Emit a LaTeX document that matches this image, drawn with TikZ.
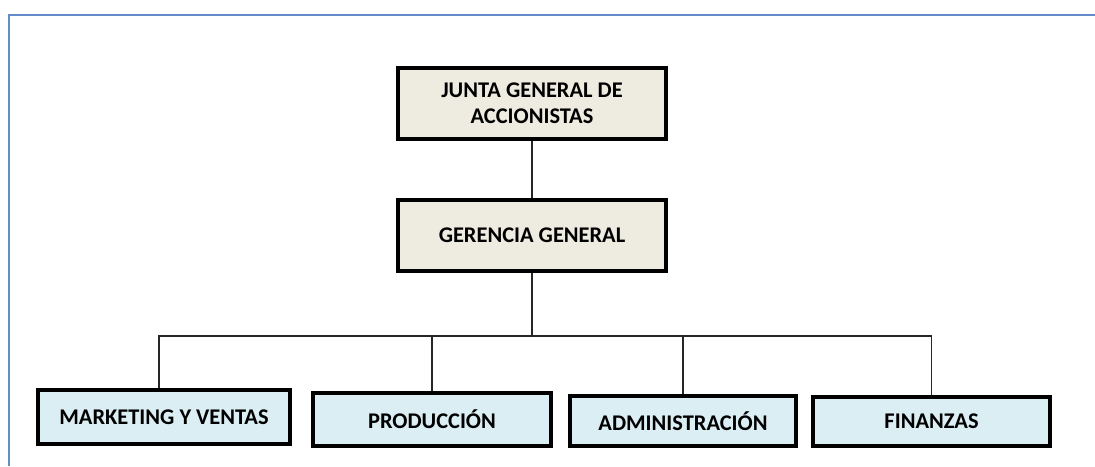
\documentclass[tikz,border=0pt]{standalone}
\usepackage{fontspec}
\setmainfont{Carlito}
\usetikzlibrary{calc}
\definecolor{beige}{RGB}{238,236,225}
\definecolor{paleblue}{RGB}{218,238,243}
\definecolor{frameblue}{RGB}{100,140,200}

\begin{document}
\begin{tikzpicture}[x=0.5pt,y=-0.5pt,
  topbox/.style={draw=black,line width=1.9pt,fill=beige,inner sep=0pt,
    minimum width=134.2pt,minimum height=35.7pt,align=center,
    font=\fontsize{11.2}{13}\selectfont\bfseries},
  deptbox/.style={draw=black,line width=1.9pt,fill=paleblue,inner sep=0pt,
    font=\fontsize{11.2}{13}\selectfont\bfseries},
  link/.style={draw=black!85,line width=0.7pt}]

\useasboundingbox (0,0) rectangle (1095,466);

%frame
\draw[frameblue,line width=1.1pt] (1095,15) -- (9,15) -- (9,466);

%top
\node[topbox] (junta) at (532,103.5) {JUNTA GENERAL DE\\ACCIONISTAS};
\node[topbox] (gerencia) at (532,235.5) {GERENCIA GENERAL};

%departments
\node[deptbox,minimum width=126.2pt,minimum height=27.2pt] (mkt) at (164,417) {MARKETING Y VENTAS};
\node[deptbox,minimum width=119.2pt,minimum height=26.7pt] (prod) at (432,419.5) {PRODUCCIÓN};
\node[deptbox,minimum width=113.2pt,minimum height=25.2pt] (adm) at (683,421) {ADMINISTRACIÓN};
\node[deptbox,minimum width=118.7pt,minimum height=24.7pt] (fin) at (931.5,421.5) {FINANZAS};

%lines
\coordinate (bus) at (532,336);
\draw[link] (junta) -- (gerencia);
\draw[link] (gerencia) -- (bus);
\draw[link] (bus) -| ([xshift=-2.5pt]mkt.north);
\draw[link] (bus) -| (prod.north);
\draw[link] (bus) -| (adm.north);
\draw[link] (bus) -| (fin.north);

\end{tikzpicture}
\end{document}
